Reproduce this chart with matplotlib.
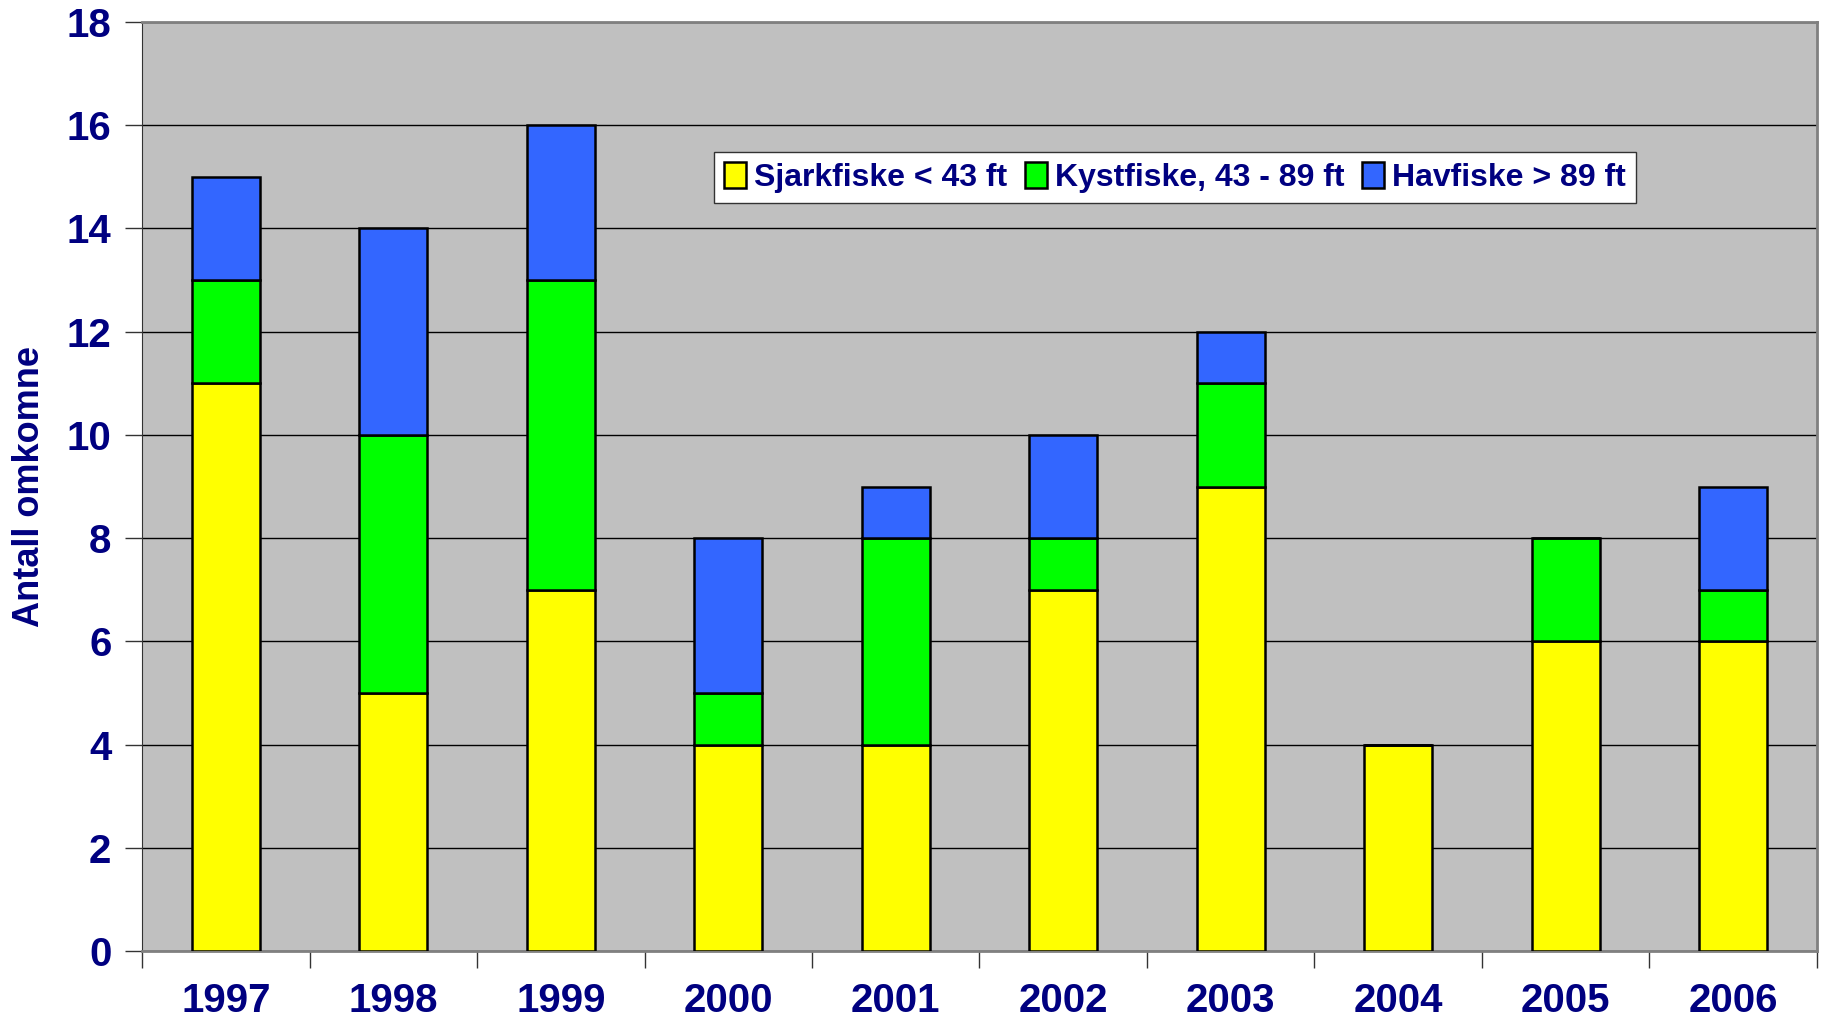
import numpy as np
import matplotlib
matplotlib.use("Agg")
import matplotlib.pyplot as plt

years = ["1997", "1998", "1999", "2000", "2001", "2002", "2003", "2004", "2005", "2006"]
sjark = [11, 5, 7, 4, 4, 7, 9, 4, 6, 6]
kyst = [2, 5, 6, 1, 4, 1, 2, 0, 2, 1]
hav = [2, 4, 3, 3, 1, 2, 1, 0, 0, 2]
labels = ["Sjarkfiske < 43 ft", "Kystfiske, 43 - 89 ft", "Havfiske > 89 ft"]
colors = ["#FFFF00", "#00FF00", "#3366FF"]

navy = "#000080"
plt.rcParams['font.family'] = ['Liberation Sans', 'DejaVu Sans']
plt.rcParams['font.weight'] = 'bold'

fig = plt.figure(figsize=(18.23, 10.24), dpi=100)
ax = fig.add_axes([0.0779, 0.0713, 0.9188, 0.9072])
ax.set_facecolor("#C0C0C0")

x = np.arange(len(years))
bottom = np.zeros(len(years))
for vals, lab, col in zip([sjark, kyst, hav], labels, colors):
	vals = np.array(vals, dtype=float)
	ax.bar(x, vals, 0.405, bottom=bottom, color=col, edgecolor="black",
		linewidth=1.8, label=lab, zorder=3)
	bottom += vals

ax.set_xlim(-0.5, len(years) - 0.5)
ax.set_ylim(0, 18)
ax.set_yticks(range(0, 19, 2))
ax.yaxis.grid(True, color="black", linewidth=1.0, zorder=0)
ax.set_axisbelow(True)

# category ticks between bars, labels centered under bars
ax.set_xticks(np.arange(-0.5, len(years), 1.0))
ax.set_xticklabels([])
ax.set_xticks(x, minor=True)
ax.set_xticklabels(years, minor=True)
ax.tick_params(axis='x', which='minor', length=0, pad=22, labelsize=29, labelcolor=navy)
ax.tick_params(axis='x', which='major', length=12, width=1, color="#333333")
ax.tick_params(axis='y', length=12, width=1, color="#333333", pad=10, labelsize=29, labelcolor=navy)
for t in ax.get_xticklabels(minor=True) + ax.get_yticklabels():
	t.set_fontweight('bold')

for s in ["top", "right"]:
	ax.spines[s].set_color("#808080")
	ax.spines[s].set_linewidth(2)
ax.spines["left"].set_color("#333333")
ax.spines["bottom"].set_color("#808080")
ax.spines["bottom"].set_linewidth(2)

ax.set_ylabel("Antall omkomne", fontsize=26, fontweight='bold', color=navy, labelpad=14)

leg = ax.legend(loc="upper left", bbox_to_anchor=(0.3415, 0.860), ncol=3, frameon=True,
	fancybox=False, edgecolor="#333333", framealpha=1, fontsize=23,
	handlelength=0.7, handleheight=0.9, handletextpad=0.25, columnspacing=0.55,
	borderpad=0.3, borderaxespad=0)
leg.get_frame().set_linewidth(1.0)
for t in leg.get_texts():
	t.set_color(navy)
	t.set_fontweight('bold')

fig.savefig("out.png", dpi=100)
